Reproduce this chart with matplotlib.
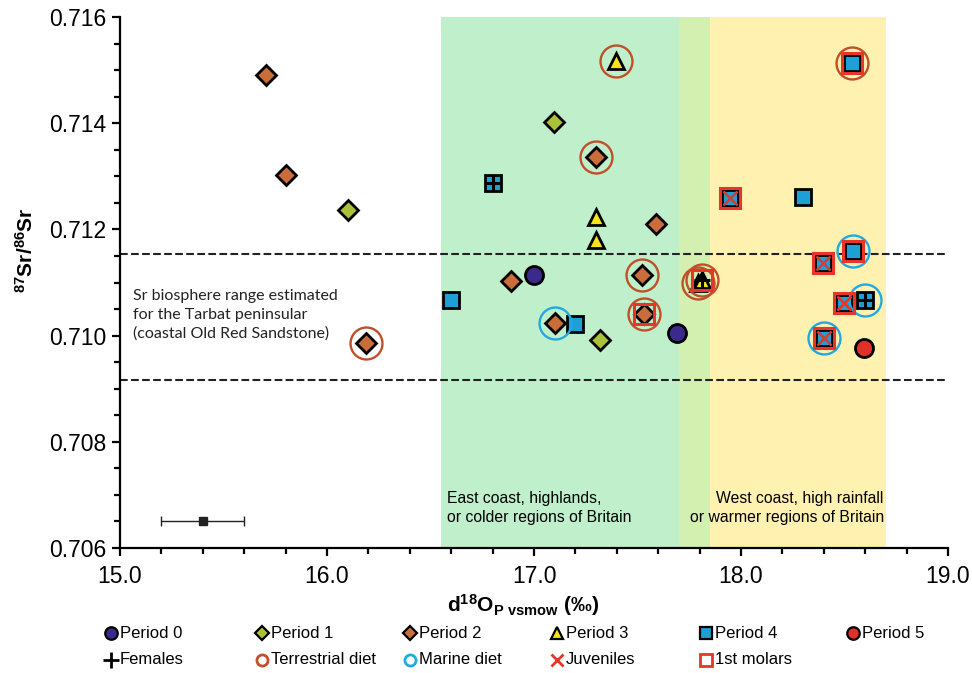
import matplotlib
matplotlib.use('Agg')
import matplotlib.pyplot as plt
from matplotlib import font_manager
from matplotlib.lines import Line2D
from matplotlib.ticker import MultipleLocator, FormatStrFormatter

plt.rcParams['font.family'] = ['Liberation Sans', 'DejaVu Sans']
plt.rcParams['mathtext.fontset'] = 'custom'
plt.rcParams['mathtext.rm'] = 'Liberation Sans'
plt.rcParams['mathtext.bf'] = 'Liberation Sans:bold'

names = set(f.name for f in font_manager.fontManager.ttflist)
if 'Liberation Sans Narrow' in names:
    narrow_font, leg_size, reg_size = 'Liberation Sans Narrow', 14, 13
else:
    narrow_font, leg_size, reg_size = 'Liberation Sans', 12, 11.3

# ---- data (d18O, 87Sr/86Sr) ----
p0_x = [17.00, 17.69]
p0_y = [0.71115, 0.71005]
p1_x = [16.10, 17.095, 17.32]
p1_y = [0.71237, 0.71402, 0.70992]
p2_x = [15.705, 15.80, 16.19, 16.89, 17.10, 17.30, 17.59, 17.52, 17.53]
p2_y = [0.71491, 0.71302, 0.70986, 0.71103, 0.71023, 0.71336, 0.71210, 0.71115, 0.71040]
p3_x = [17.396, 17.30, 17.30, 17.79, 17.81]
p3_y = [0.71518, 0.71224, 0.71180, 0.71100, 0.71105]
p4_x = [16.60, 16.80, 17.20, 17.947, 18.30, 18.535, 18.54, 18.395, 18.50, 18.60, 18.40]
p4_y = [0.71067, 0.71287, 0.71022, 0.71259, 0.71261, 0.71513, 0.71159, 0.71136, 0.71061, 0.71067, 0.70995]
p5_x = [18.594]
p5_y = [0.70976]

female_x = [16.80, 18.60, 17.81]
female_y = [0.71287, 0.71067, 0.71105]
terr_x = [17.396, 17.30, 16.19, 17.52, 17.53, 17.79, 17.81, 18.535]
terr_y = [0.71518, 0.71336, 0.70986, 0.71115, 0.71040, 0.71100, 0.71105, 0.71513]
marine_x = [17.10, 18.54, 18.60, 18.40]
marine_y = [0.71023, 0.71159, 0.71067, 0.70995]
juv_x = [17.947, 18.395, 18.50, 18.40]
juv_y = [0.71259, 0.71136, 0.71061, 0.70995]
molar_x = [17.947, 18.395, 18.50, 18.40, 18.535, 18.54, 17.53, 17.81]
molar_y = [0.71259, 0.71136, 0.71061, 0.70995, 0.71513, 0.71159, 0.71040, 0.71105]

east_band = (16.55, 17.85)
west_band = (17.70, 18.70)
sr_range = (0.70916, 0.71153)
err_x, err_y, err_dx = 15.4, 0.7065, 0.2

# colours
c_p0 = '#3a2a8c'
c_p1 = '#a9c23a'
c_p2 = '#c96d3a'
c_p3 = '#f6e31a'
c_p4 = '#1ca0d6'
c_p5 = '#e0302a'
c_terr = '#c0502a'
c_marine = '#22aae0'
c_red = '#e8352a'

fig = plt.figure(figsize=(9.72, 6.73), dpi=100)
ax = fig.add_axes([0.1235, 0.1857, 0.8518, 0.789])

# climate bands
ax.axvspan(east_band[0], west_band[0], color='#bff0cb', lw=0, zorder=0)
ax.axvspan(west_band[0], east_band[1], color='#d3f0b0', lw=0, zorder=0)
ax.axvspan(east_band[1], west_band[1], color='#fff2b0', lw=0, zorder=0)

for yy in sr_range:
    ax.axhline(yy, color='#222222', ls='--', lw=1.5, zorder=1)

periods = [
    (p0_x, p0_y, 'o', 13, c_p0),
    (p1_x, p1_y, 'D', 10, c_p1),
    (p2_x, p2_y, 'D', 10.5, c_p2),
    (p3_x, p3_y, '^', 12, c_p3),
    (p4_x, p4_y, 's', 11.5, c_p4),
    (p5_x, p5_y, 'o', 13, c_p5),
]
for xs, ys, m, s, c in periods:
    ax.plot(xs, ys, ls='none', marker=m, ms=s, mfc=c, mec='black', mew=2, zorder=3)

ax.plot(terr_x, terr_y, ls='none', marker='o', ms=23, mfc='none', mec=c_terr, mew=1.7, zorder=4)
ax.plot(marine_x, marine_y, ls='none', marker='o', ms=23, mfc='none', mec=c_marine, mew=1.7, zorder=4)
ax.plot(molar_x, molar_y, ls='none', marker='s', ms=15, mfc='none', mec=c_red, mew=2.2, zorder=5)
ax.plot(juv_x, juv_y, ls='none', marker='x', ms=10, mec=c_red, mew=1.8, zorder=6)
ax.plot(female_x, female_y, ls='none', marker='+', ms=12, mec='black', mew=2.2, zorder=6)

ax.errorbar(err_x, err_y, xerr=err_dx, fmt='s', color='#222222', ms=6, capsize=3.5,
            elinewidth=1, capthick=1, zorder=3)

ax.text(15.063, 0.71039, 'Sr biosphere range estimated\nfor the Tarbat peninsular\n(coastal Old Red Sandstone)',
        family=['Lato', 'DejaVu Sans'], fontsize=11.5, va='center', ha='left', linespacing=1.4, color='#222222')
ax.text(16.58, 0.70675, 'East coast, highlands,\nor colder regions of Britain',
        family=[narrow_font, 'DejaVu Sans'], fontsize=reg_size, va='center', ha='left', linespacing=1.3)
ax.text(18.69, 0.70675, 'West coast, high rainfall\nor warmer regions of Britain',
        family=[narrow_font, 'DejaVu Sans'], fontsize=reg_size, va='center', ha='right', linespacing=1.3)

ax.set_xlim(15.0, 19.0)
ax.set_ylim(0.706, 0.716)
ax.xaxis.set_major_locator(MultipleLocator(1.0))
ax.xaxis.set_minor_locator(MultipleLocator(0.2))
ax.yaxis.set_major_locator(MultipleLocator(0.002))
ax.yaxis.set_minor_locator(MultipleLocator(0.0005))
ax.xaxis.set_major_formatter(FormatStrFormatter('%.1f'))
ax.yaxis.set_major_formatter(FormatStrFormatter('%.3f'))
ax.tick_params(which='both', direction='out', width=1.6, labelsize=16.5)
ax.tick_params(which='major', length=6)
ax.tick_params(which='minor', length=4.5)
ax.tick_params(axis='x', pad=6)
ax.tick_params(axis='y', pad=4)
for side in ['top', 'right']:
    ax.spines[side].set_visible(False)
for side in ['left', 'bottom']:
    ax.spines[side].set_linewidth(1.6)

ax.set_xlabel(r'$\mathbf{d^{18}O_{P\ vsmow}}$ (‰)', fontsize=15, fontweight='bold')
ax.xaxis.set_label_coords(0.487, -0.083)
ax.set_ylabel(r'$\mathbf{{}^{87}Sr/{}^{86}Sr}$', fontsize=15, fontweight='bold')
ax.yaxis.set_label_coords(-0.1, 0.56)

# legend, laid out in two rows like the original
leg_row1 = [('Period 0', 'o', c_p0, 'black', 9), ('Period 1', 'D', c_p1, 'black', 7),
            ('Period 2', 'D', c_p2, 'black', 7), ('Period 3', '^', c_p3, 'black', 8),
            ('Period 4', 's', c_p4, 'black', 8), ('Period 5', 'o', c_p5, 'black', 9)]
leg_row2 = [('Females', '+', 'none', 'black', 11), ('Terrestrial diet', 'o', 'none', c_terr, 8),
            ('Marine diet', 'o', 'none', c_marine, 8), ('Juveniles', 'x', 'none', c_red, 9),
            ('1st molars', 's', 'none', c_red, 9)]
col_px = [111, 262, 410, 557, 706, 853]
W, H = 972.0, 673.0
for row, ypx in [(leg_row1, 633), (leg_row2, 660)]:
    for (lab, m, fc, ec, s), xpx in zip(row, col_px):
        fig.add_artist(Line2D([xpx / W], [1 - ypx / H], transform=fig.transFigure, ls='none',
                              marker=m, ms=s, mfc=fc, mec=ec, mew=1.6 if fc != 'none' else 2))
        fig.text((xpx + 9) / W, 1 - ypx / H, lab, family=[narrow_font, 'DejaVu Sans'],
                 fontsize=leg_size, va='center', ha='left')

fig.savefig('out.png', dpi=100)
